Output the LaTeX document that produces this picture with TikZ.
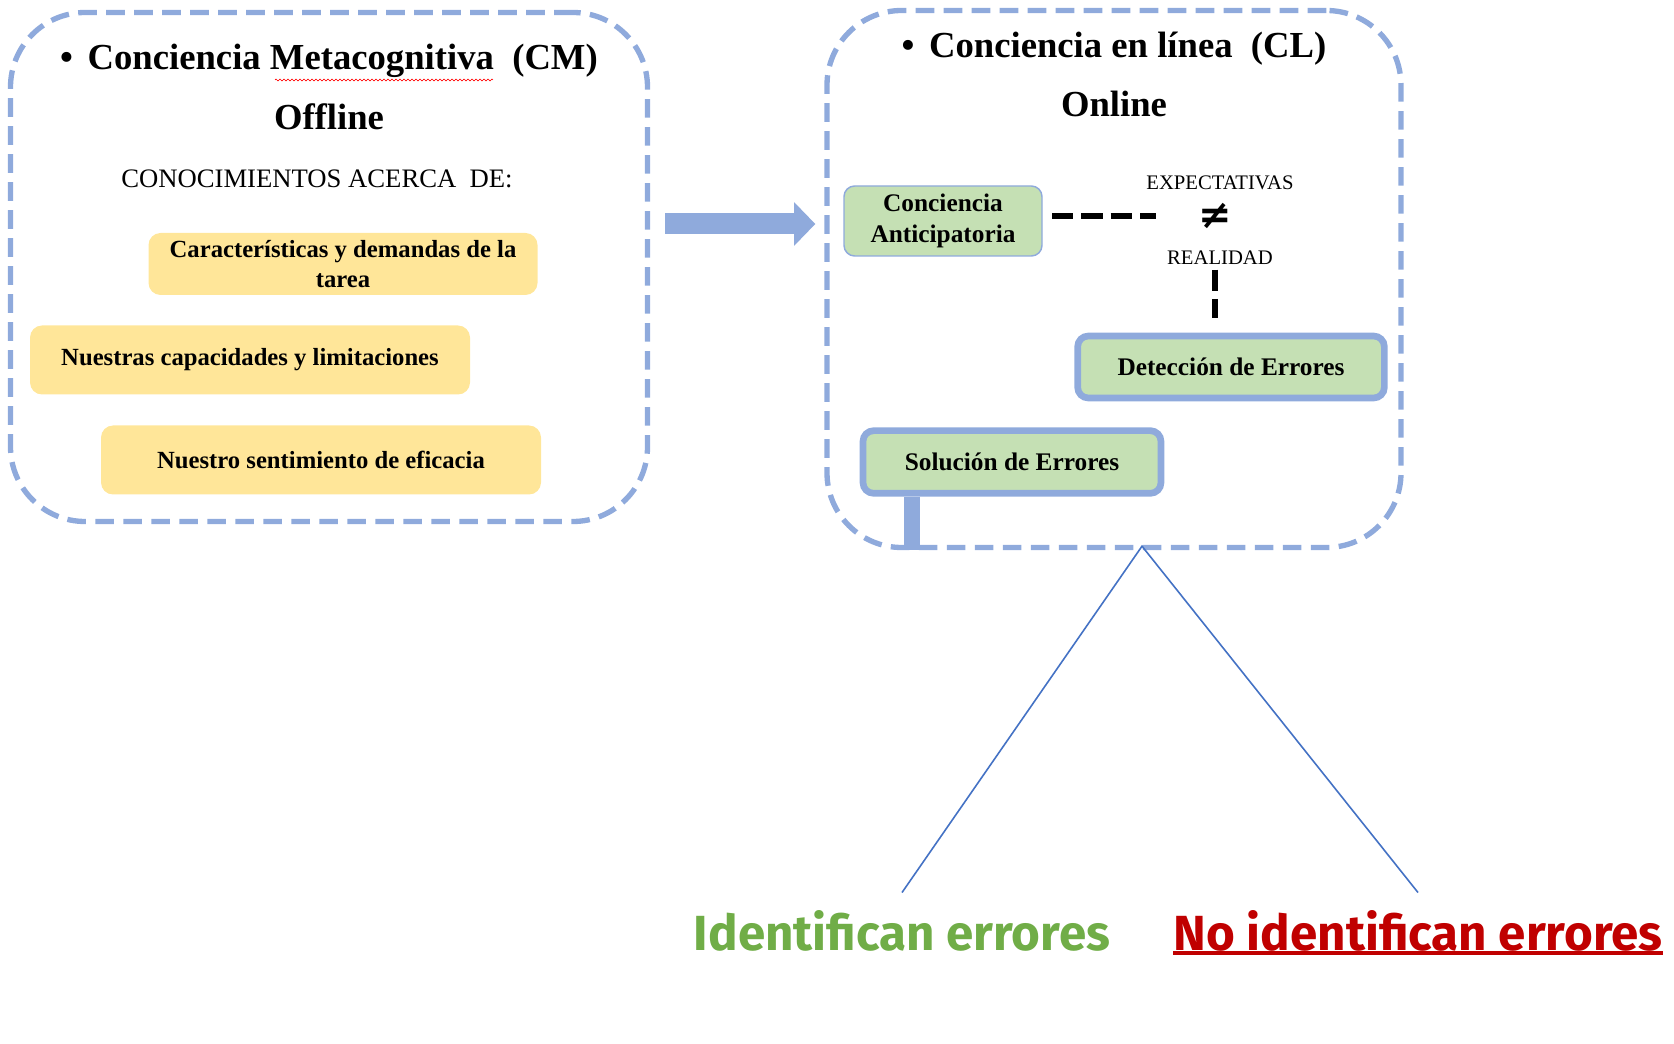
\documentclass[tikz,border=0pt]{standalone}
\usepackage{fontspec}
\setmainfont{Liberation Serif}
\newfontfamily\labelfont{Fira Sans}
\newfontfamily\symbfont{DejaVu Sans}
\usetikzlibrary{arrows.meta,calc,positioning,decorations.pathmorphing}
\definecolor{Haze}{HTML}{8FAADC}
\definecolor{Butter}{HTML}{FFE699}
\definecolor{Sage}{HTML}{C5E0B4}
\definecolor{Azure}{HTML}{4472C4}
\definecolor{Leaf}{HTML}{70AD47}
\definecolor{Brick}{HTML}{C00000}

\begin{document}
\begin{tikzpicture}[x=0.75pt,y=-0.75pt,
    dashbox/.style={draw=Haze,line width=4pt,dash pattern=on 14pt off 7pt,rounded corners=56pt},
    headline/.style={font=\fontsize{27.5}{32}\selectfont\bfseries},
    knowbox/.style={fill=Butter,rounded corners=9pt,inner sep=0pt,align=center,font=\fontsize{18.5}{23}\selectfont\bfseries},
    errbox/.style={fill=Sage,draw=Haze,rounded corners=8pt,inner sep=0pt,align=center,font=\fontsize{19}{23.5}\selectfont\bfseries},
    caps/.style={font=\fontsize{15.5}{18}\selectfont},
    gapline/.style={black,line width=4.5pt,dash pattern=on 16pt off 6pt},
    verdict/.style={inner xsep=0pt,font=\labelfont\bfseries\fontsize{37}{40}\selectfont}]
    \useasboundingbox (0,0) rectangle (1674,1044);

    % offline side
    \node[dashbox,minimum width=477.75pt,minimum height=381.75pt] (offbox) at (329,267) {};
    \node[headline] (cmtitle) at (329,61) {•\hspace{0.4em}Conciencia Metacognitiva\ \ (CM)};
    \draw[red,line width=0.5pt,decorate,decoration={zigzag,segment length=3pt,amplitude=0.7pt}] (275,80) -- (493,80);
    \node[headline] (offline) at (329,117) {Offline};
    \node[font=\fontsize{20}{24}\selectfont] (acerca) at (317,179) {CONOCIMIENTOS ACERCA\ \ DE:};
    \node[knowbox,minimum width=291.75pt,minimum height=46.5pt] (tarea) at (343,264) {Características y demandas de la\\tarea};
    \node[knowbox,minimum width=330pt,minimum height=51.75pt] (capac) at (250,360) {Nuestras capacidades y limitaciones};
    \node[knowbox,minimum width=330pt,minimum height=51.75pt] (eficacia) at (321,460) {Nuestro sentimiento de eficacia};

    % online side
    \node[dashbox,minimum width=430.5pt,minimum height=402.75pt] (onbox) at (1114,279) {};
    \draw[Haze,line width=15.75pt,-{Triangle[length=16pt,width=32pt]}] ($(offbox.east)+(15,-43)$) -- ($(onbox.west)+(-9,-55)$);
    \node[headline] (cltitle) at (1114,49) {•\hspace{0.4em}Conciencia en línea\ \ (CL)};
    \node[headline] (online) at (1114,104) {Online};
    \node[errbox,line width=1.1pt,minimum width=148.5pt,minimum height=52.5pt] (anticip) at (943,221) {Conciencia\\Anticipatoria};
    \node[caps] (expect) at (1220,183) {EXPECTATIVAS};
    \node[font=\symbfont\bfseries\fontsize{30}{30}\selectfont] (neq) at (1215,216) {≠};
    \node[caps] (real) at (1220,258) {REALIDAD};
    \node[errbox,line width=5pt,minimum width=230pt,minimum height=46.5pt] (detect) at (1231,367) {Detección de Errores};
    \node[errbox,line width=5pt,minimum width=223.5pt,minimum height=47pt] (solve) at (1012,462) {Solución de Errores};

    \coordinate (dashstart) at ([xshift=7pt]anticip.east);
    \draw[gapline] (dashstart |- neq.west) -- ([xshift=-28pt]neq.west);
    \draw[gapline] (real.south -| neq.center) -- ([yshift=11pt]detect.north -| neq.center);
    \coordinate (bartop) at ([xshift=39pt]solve.south west);
    \draw[Haze,line width=12pt] (bartop) -- (bartop |- onbox.south);

    % outcomes
    \coordinate (apex) at ($(onbox.south)+(28,-4)$);
    \node[verdict,text=Leaf] (ident) at (902,931) {Identifican errores};
    \node[verdict,text=Brick] (noident) at (1418,931) {No identifican errores};
    \draw[Brick,line width=3pt] ([yshift=2pt]noident.south west) -- ([yshift=2pt]noident.south east);
    \draw[Azure,line width=1.2pt] ([yshift=10pt]ident.north) -- (apex) -- ([yshift=10pt]noident.north);
\end{tikzpicture}
\end{document}
